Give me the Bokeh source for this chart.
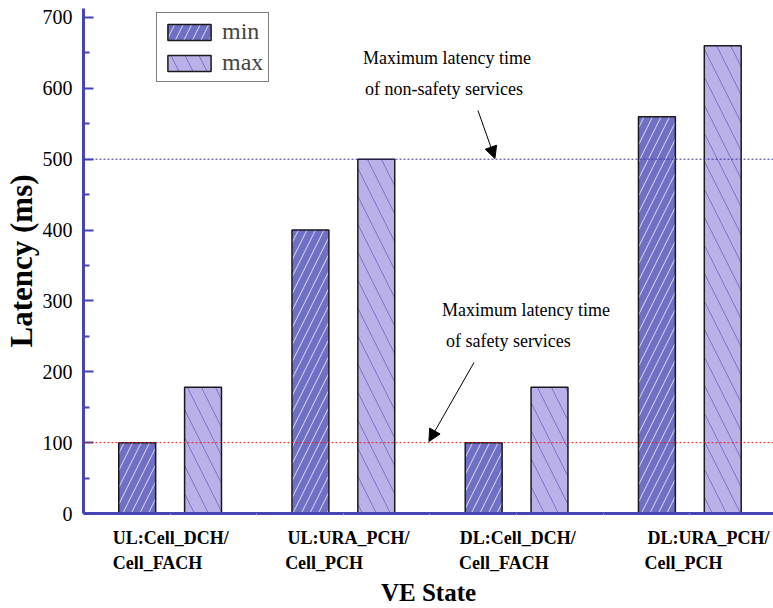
import math
from bokeh.plotting import figure
from bokeh.models import (ColumnDataSource, Span, Arrow, NormalHead, Label,
                          Legend, LegendItem, FixedTicker, LinearAxis)
from bokeh.transform import dodge
from bokeh.embed import file_html
from bokeh.resources import INLINE

# ---------------- data ----------------
cat_line1 = ["UL:Cell_DCH/", "UL:URA_PCH/", "DL:Cell_DCH/", "DL:URA_PCH/"]
cat_line2 = ["Cell_FACH", "Cell_PCH", "Cell_FACH", "Cell_PCH"]
min_latency = [100, 400, 100, 560]
max_latency = [178, 500, 178, 660]
y_ticks = [0, 100, 200, 300, 400, 500, 600, 700]
y_minor = [50, 150, 250, 350, 450, 550, 650]
safety_limit = 100
non_safety_limit = 500
series_names = ["min", "max"]

# ---------------- layout/style ----------------
FONT = "Liberation Serif"
AXIS_BLUE = "#4545b5"
MIN_FILL = "#6f6fc6"
MAX_FILL = "#bab1e8"

x_pos = [1, 2, 3, 4]
src = ColumnDataSource(dict(x=x_pos, mn=min_latency, mx=max_latency))

p = figure(width=773, height=608, x_range=(0.5, 4.483), y_range=(0, 712.7),
           output_backend="svg", toolbar_location=None,
           min_border_left=82, min_border_right=0, min_border_top=8,
           min_border_bottom=95)
p.outline_line_color = None
p.xgrid.grid_line_color = None
p.ygrid.grid_line_color = None
p.background_fill_color = "white"

r_min = p.vbar(x=dodge("x", -0.19), top="mn", width=0.213, source=src,
               fill_color=MIN_FILL, line_color="#1a1a1a", line_width=1.5,
               hatch_pattern="/", hatch_color="white", hatch_alpha=0.75,
               hatch_scale=17, hatch_weight=1)
r_max = p.vbar(x=dodge("x", 0.19), top="mx", width=0.213, source=src,
               fill_color=MAX_FILL, line_color="#1a1a1a", line_width=1.5,
               hatch_pattern="\\", hatch_color="#6f6fc6", hatch_alpha=0.9,
               hatch_scale=28, hatch_weight=1)

# reference lines
p.add_layout(Span(location=non_safety_limit, dimension="width",
                  line_color="#3333a0", line_dash="2 2", line_width=1))
p.add_layout(Span(location=safety_limit, dimension="width",
                  line_color="#dd2222", line_dash="2 2", line_width=1))

# y axis
yax = p.yaxis[0]
yax.ticker = FixedTicker(ticks=y_ticks, minor_ticks=y_minor)
yax.axis_line_color = AXIS_BLUE
yax.axis_line_width = 3
yax.major_tick_line_color = AXIS_BLUE
yax.major_tick_line_width = 2
yax.major_tick_in = 10
yax.major_tick_out = 0
yax.minor_tick_line_color = AXIS_BLUE
yax.minor_tick_line_width = 2
yax.minor_tick_in = 6
yax.minor_tick_out = 0
yax.major_label_text_font = FONT
yax.major_label_text_font_size = "20px"
yax.major_label_text_color = "black"
yax.major_label_standoff = 11
yax.axis_label = "Latency (ms)"
yax.axis_label_text_font = FONT
yax.axis_label_text_font_size = "31px"
yax.axis_label_text_font_style = "bold"
yax.axis_label_text_color = "black"
yax.axis_label_standoff = 1

# category label positions (centre of each text line)
line1_x = [1.004, 2.030, 3.007, 4.108]
line2_x = [0.927, 1.889, 2.927, 3.964]
boundary_ticks = [1, 1.5, 2, 2.5, 3, 3.5, 4, 4.5]

# main x axis: axis line, faint ticks, first label line
xax = p.xaxis[0]
xax.ticker = FixedTicker(ticks=line1_x, minor_ticks=boundary_ticks)
xax.major_label_overrides = {lx: t for lx, t in zip(line1_x, cat_line1)}
xax.axis_line_color = AXIS_BLUE
xax.axis_line_width = 3
xax.major_tick_line_color = None
xax.major_tick_in = 0
xax.major_tick_out = 0
xax.minor_tick_line_color = "#a0a0d0"
xax.minor_tick_line_width = 1
xax.minor_tick_in = 0
xax.minor_tick_out = 2
xax.major_label_text_font = FONT
xax.major_label_text_font_size = "18px"
xax.major_label_text_font_style = "bold"
xax.major_label_text_color = "black"
xax.major_label_standoff = 12

# second label line + axis title
cat_axis = LinearAxis(ticker=FixedTicker(ticks=line2_x),
                      major_label_overrides={lx: t for lx, t in zip(line2_x, cat_line2)},
                      axis_line_color=None, major_tick_line_color=None,
                      minor_tick_line_color=None,
                      major_tick_in=0, major_tick_out=0,
                      major_label_text_font=FONT,
                      major_label_text_font_size="18px",
                      major_label_text_font_style="bold",
                      major_label_text_color="black",
                      major_label_standoff=2,
                      axis_label="VE State",
                      axis_label_text_font=FONT,
                      axis_label_text_font_size="25px",
                      axis_label_text_font_style="bold",
                      axis_label_text_color="black",
                      axis_label_standoff=3)
p.add_layout(cat_axis, "below")

# annotations
for txt, ax, ay in (("Maximum latency time", 2.114, 643.5),
                    ("of non-safety services", 2.125, 598.4),
                    ("Maximum latency time", 2.569, 287.9),
                    ("of safety services", 2.592, 244.1)):
    p.add_layout(Label(x=ax, y=ay, text=txt, text_font=FONT,
                       text_font_size="18px", text_align="left",
                       text_baseline="middle", text_color="black"))

p.add_layout(Arrow(end=NormalHead(size=12, fill_color="black", line_color="black"),
                   x_start=2.777, y_start=568.7, x_end=2.875, y_end=501,
                   line_color="black", line_width=1))
p.add_layout(Arrow(end=NormalHead(size=12, fill_color="black", line_color="black"),
                   x_start=2.754, y_start=213, x_end=2.494, y_end=101.6,
                   line_color="black", line_width=1))

# legend
legend = Legend(items=[LegendItem(label=series_names[0], renderers=[r_min]),
                       LegendItem(label=series_names[1], renderers=[r_max])],
                location=(73, 431), orientation="vertical",
                label_text_font=FONT, label_text_font_size="24px",
                glyph_width=54, glyph_height=20, label_height=20,
                label_standoff=6, spacing=4, padding=5, margin=0,
                border_line_color="black", border_line_width=1,
                background_fill_alpha=1.0)
p.add_layout(legend)

open("out.html", "w").write(file_html(p, INLINE))
